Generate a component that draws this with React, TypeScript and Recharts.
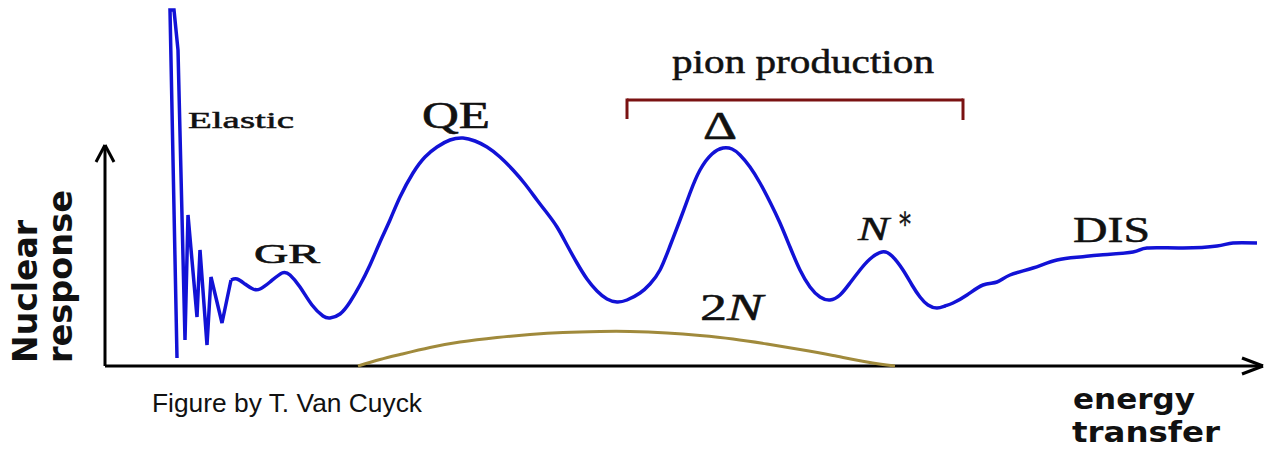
import React from "react";
import { LineChart, Line, XAxis, YAxis, ReferenceLine, ReferenceDot } from "recharts";

// Nuclear response vs energy transfer (arbitrary units)
// Elastic peak + giant-resonance wiggles (drawn straight, in path order)
const elasticPath: [number, number][] = [
  [72, 8], [65, 356], [69, 356], [73, 316], [80, 26], [83, 151], [92, 49],
  [95, 116], [102, 21], [106, 89], [117, 43], [126, 86],
];

// GR, QE, Delta, N*, DIS response (smooth)
const responsePath: [number, number][] = [
  [126, 86], [132, 87], [140, 82], [148, 77], [155, 77], [165, 84], [177, 93],
  [185, 91], [195, 79], [207, 61], [218, 50], [225, 48], [235, 52], [245, 64],
  [255, 81], [265, 101], [275, 124], [285, 146], [295, 169], [308, 193],
  [320, 209], [332, 219], [345, 226], [358, 228], [370, 225], [382, 219],
  [395, 209], [408, 196], [420, 182], [432, 166], [442, 153], [452, 139],
  [462, 121], [472, 103], [482, 87], [492, 75], [502, 67], [512, 64],
  [522, 66], [535, 73], [545, 82], [555, 96], [565, 120], [575, 146],
  [585, 173], [595, 196], [607, 212], [618, 218], [627, 217], [635, 211],
  [645, 199], [655, 183], [665, 164], [675, 143], [685, 119], [695, 96],
  [705, 79], [715, 69], [725, 66], [735, 71], [745, 83], [755, 96], [765, 107],
  [777, 114], [787, 110], [798, 96], [807, 81], [815, 69], [823, 61],
  [832, 58], [840, 60], [848, 63], [862, 71], [878, 81], [892, 84], [905, 91],
  [928, 98], [952, 106], [975, 109], [995, 111], [1028, 114], [1042, 118],
  [1078, 118], [1112, 120], [1128, 123], [1152, 123],
];

// Two-nucleon (2N) contribution
const twoNPath: [number, number][] = [
  [253, 0], [275, 6.5], [295, 11.5], [325, 18.5], [355, 24], [392, 28.5],
  [425, 31.5], [458, 33.5], [495, 34.5], [525, 34.5], [562, 33], [595, 30.5],
  [628, 27], [662, 22], [695, 16.5], [728, 10.5], [762, 4], [790, 0],
];

// Axis extents & pion-production bracket
const xAxisEnd = 1158;
const yAxisEnd = 221;
const pionRange: [number, number] = [522, 858];
const pionBracketLevel = 266;
const pionBracketFoot = 247;

const toPts = (arr: [number, number][]) => arr.map(([x, y]) => ({ x, y }));
const elasticData = toPts(elasticPath);
const responseData = toPts(responsePath);
const twoNData = toPts(twoNPath);

type Lbl = {
  text: React.ReactNode;
  x: number;
  y: number;
  size: number;
  len: number;
  family: string;
  weight?: string;
  italic?: boolean;
  rotate?: boolean;
  thicken?: number;
};

const SERIF = "'Liberation Serif', 'DejaVu Serif', serif";
const SANS = "'DejaVu Sans', sans-serif";
const ARIAL = "'Liberation Sans', Arial, sans-serif";

const labels: Lbl[] = [
  { text: "Elastic", x: 83, y: 238, size: 24, len: 106, family: SERIF, thicken: 0.5 },
  { text: "GR", x: 149, y: 103, size: 27, len: 66, family: SERIF, thicken: 0.6 },
  { text: "QE", x: 317, y: 238, size: 38, len: 68, family: SERIF, thicken: 0.6 },
  { text: "\u0394", x: 598, y: 227, size: 40, len: 34, family: SERIF, thicken: 0.6 },
  { text: "pion production", x: 567, y: 293, size: 34, len: 262, family: SERIF, thicken: 0.5 },
  { text: "N", x: 753, y: 126, size: 34, len: 31, family: SERIF, italic: true, thicken: 0.5 },
  { text: "\u2217", x: 792, y: 137, size: 32, len: 16, family: SERIF, thicken: 0.3 },
  {
    text: (
      <>
        <tspan>2</tspan>
        <tspan fontStyle="italic">N</tspan>
      </>
    ),
    x: 595, y: 46, size: 38, len: 63, family: SERIF, thicken: 0.5,
  },
  { text: "DIS", x: 968, y: 124, size: 35, len: 77, family: SERIF, thicken: 0.5 },
  { text: "energy", x: 968, y: -43, size: 28, len: 122, family: SANS, weight: "bold" },
  { text: "transfer", x: 967, y: -76, size: 28, len: 148, family: SANS, weight: "bold" },
  { text: "Figure by T. Van Cuyck", x: 47, y: -46, size: 25, len: 270, family: ARIAL },
  { text: "Nuclear", x: -68, y: 3, size: 33, len: 143, family: SANS, weight: "bold", rotate: true },
  { text: "response", x: -33, y: 3, size: 33, len: 173, family: SANS, weight: "bold", rotate: true },
];

const makeShape = (l: Lbl) => (p: any) => (
  <text
    x={p.cx}
    y={p.cy}
    fontFamily={l.family}
    fontSize={l.size}
    fontWeight={l.weight || "normal"}
    fontStyle={l.italic ? "italic" : "normal"}
    fill="#111"
    stroke={l.thicken ? "#111" : "none"}
    strokeWidth={l.thicken || 0}
    textAnchor="start"
    textLength={l.len}
    lengthAdjust="spacingAndGlyphs"
    transform={l.rotate ? `rotate(-90 ${p.cx} ${p.cy})` : undefined}
  >
    {l.text}
  </text>
);

const axisStroke = { stroke: "#000", strokeWidth: 3 };

export default function App() {
  return (
    <div style={{ position: "absolute", left: 0, top: 0, background: "#fff" }}>
      <LineChart width={1277} height={449} margin={{ top: 0, right: 0, bottom: 0, left: 0 }}>
        <XAxis type="number" dataKey="x" domain={[-105, 1172]} hide allowDataOverflow />
        <YAxis type="number" dataKey="y" domain={[-83, 366]} hide allowDataOverflow />

        {/* axes */}
        <ReferenceLine segment={[{ x: 0, y: 0 }, { x: xAxisEnd, y: 0 }]} {...axisStroke} />
        <ReferenceLine segment={[{ x: xAxisEnd, y: 0 }, { x: xAxisEnd - 21, y: 8 }]} {...axisStroke} />
        <ReferenceLine segment={[{ x: xAxisEnd, y: 0 }, { x: xAxisEnd - 21, y: -8 }]} {...axisStroke} />
        <ReferenceLine segment={[{ x: 0, y: 0 }, { x: 0, y: yAxisEnd }]} {...axisStroke} />
        <ReferenceLine segment={[{ x: 0, y: yAxisEnd }, { x: -9, y: yAxisEnd - 17 }]} {...axisStroke} />
        <ReferenceLine segment={[{ x: 0, y: yAxisEnd }, { x: 9, y: yAxisEnd - 17 }]} {...axisStroke} />

        {/* pion production bracket */}
        <ReferenceLine segment={[{ x: pionRange[0], y: pionBracketLevel }, { x: pionRange[1], y: pionBracketLevel }]} stroke="#7a1212" strokeWidth={3} />
        <ReferenceLine segment={[{ x: pionRange[0], y: pionBracketLevel + 1.5 }, { x: pionRange[0], y: pionBracketFoot }]} stroke="#7a1212" strokeWidth={3} />
        <ReferenceLine segment={[{ x: pionRange[1], y: pionBracketLevel + 1.5 }, { x: pionRange[1], y: pionBracketFoot - 1 }]} stroke="#7a1212" strokeWidth={3} />

        <Line data={twoNData} dataKey="y" type="natural" stroke="#a08a3c" strokeWidth={3} dot={false} activeDot={false} isAnimationActive={false} />
        <Line data={elasticData} dataKey="y" type="linear" stroke="#1212d6" strokeWidth={3.5} dot={false} activeDot={false} isAnimationActive={false} />
        <Line data={responseData} dataKey="y" type="natural" stroke="#1212d6" strokeWidth={3.5} dot={false} activeDot={false} isAnimationActive={false} />

        {labels.map((l, i) => (
          <ReferenceDot key={i} x={l.x} y={l.y} r={0} shape={makeShape(l)} ifOverflow="visible" />
        ))}
      </LineChart>
    </div>
  );
}
